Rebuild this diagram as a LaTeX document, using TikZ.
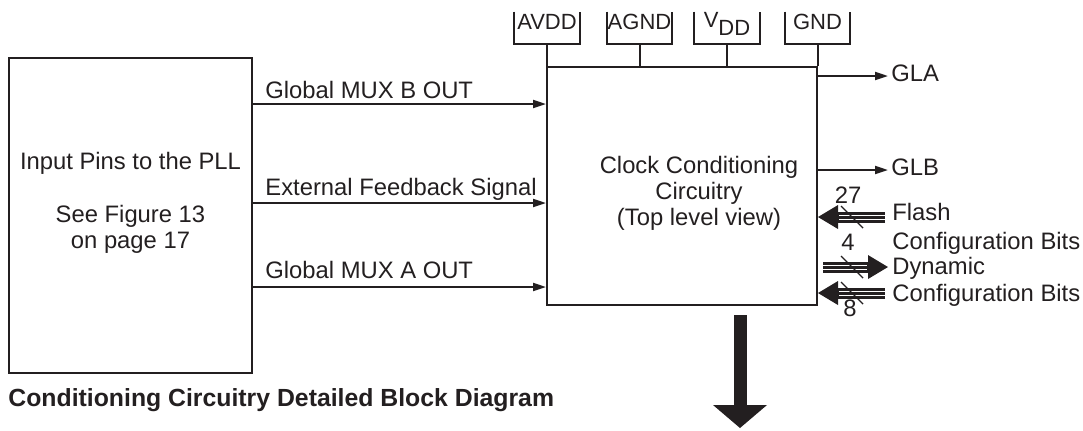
\documentclass[tikz,border=0pt]{standalone}
\usepackage{fontspec}
\setmainfont{Liberation Sans}
\usetikzlibrary{arrows.meta,positioning,calc}
\definecolor{ink}{HTML}{231F20}
\tikzset{
  blockbox/.style={draw=ink, line width=1pt, inner sep=0pt},
  blocktext/.style={align=center, inner sep=0pt, text=ink,
                    font=\fontsize{11.9}{13}\selectfont},
  pinbox/.style={inner sep=0pt, minimum width=32.5pt, text height=8.5pt,
                 text depth=7.5pt, text=ink, font=\fontsize{11}{13}\selectfont},
  pinline/.style={draw=ink, line width=1pt},
  sigarrow/.style={draw=ink, line width=1pt, -{Triangle[length=6.5pt,width=4pt]}},
  siglabel/.style={anchor=base west, inner sep=0pt, text=ink,
                   font=\fontsize{11.9}{14}\selectfont},
  fatbus/.style={draw=ink, line width=5.5pt,
                 -{Triangle[length=10pt,width=12pt,line width=0pt]}},
  fatstripe/.style={draw=white, line width=0.25pt},
  buscut/.style={draw=ink, line width=0.7pt},
  bigout/.style={draw=ink, line width=6.5pt,
                 -{Triangle[length=11.5pt,width=27pt,line width=0pt]}},
  captext/.style={anchor=base west, inner sep=0pt, text=ink,
                  font=\bfseries\fontsize{12.4}{15}\selectfont}
}
\begin{document}
\begin{tikzpicture}[x=0.5pt, y=-0.5pt]
  \useasboundingbox (0,0) rectangle (1083,430);

  % Blocks
  \node[blockbox, minimum width=121.5pt, minimum height=157.5pt] (pll) at (130.5,215.5) {};
  \node[blocktext] (plltext) at (130.5,203)
    {Input Pins to the PLL\\[13.5pt]See Figure 13\\on page 17};
  \node[blockbox, minimum width=135pt, minimum height=119pt] (ccc) at (682,186) {};
  \node[blocktext] (ccctext) at (699,193)
    {Clock Conditioning\\Circuitry\\(Top level view)};

  % Supply pins
  \foreach \pname/\px/\ptext in {avdd/547/AVDD, agnd/639.5/AGND,
      vdd/727/{\raisebox{1pt}{V}\raisebox{-3pt}{DD}}, gnd/817.5/GND} {
    \node[pinbox] (\pname) at (\px,28) {\ptext};
    \draw[pinline] (\pname.north west) -- (\pname.south west)
      -- (\pname.south east) -- (\pname.north east);
    \draw[pinline] (\pname.south) -- (\pname.south |- ccc.north);
  }

  % Inputs from the PLL pins
  \foreach \yy/\txt/\ly in {104/Global MUX B OUT/98,
      203/External Feedback Signal/195, 287/Global MUX A OUT/278} {
    \draw[sigarrow] (pll.east |- 0,\yy) -- (ccc.west |- 0,\yy);
    \node[siglabel] (in\yy) at (265,\ly) {\txt};
  }

  % Global outputs
  \coordinate (glaend) at (888,76);
  \coordinate (glbend) at (888,170);
  \draw[sigarrow] (ccc.east |- glaend) -- (glaend);
  \draw[sigarrow] (ccc.east |- glbend) -- (glbend);
  \node[siglabel] (gla) at (891,81) {GLA};
  \node[siglabel] (glb) at (891,175) {GLB};

  % Configuration busses
  \coordinate (flashin) at (885,217);
  \coordinate (dynout) at (888,267);
  \coordinate (dynin) at (885,293);
  \draw[fatbus] (flashin) -- (ccc.east |- flashin);
  \draw[fatbus] ($(ccc.east |- dynout)+(5,0)$) -- (dynout);
  \draw[fatbus] (dynin) -- (ccc.east |- dynin);
  \foreach \off in {-1.9,1.9} {
    \draw[fatstripe] ($(flashin)+(0,\off)$) -- ($(ccc.east |- flashin)+(21,\off)$);
    \draw[fatstripe] ($(ccc.east |- dynout)+(5,\off)$) -- ($(dynout)+(-21,\off)$);
    \draw[fatstripe] ($(dynin)+(0,\off)$) -- ($(ccc.east |- dynin)+(21,\off)$);
  }
  \draw[buscut] ($(ccc.east |- flashin)+(23,-11)$) -- ++(22,22);
  \draw[buscut] ($(ccc.east |- dynout)+(23,-11)$) -- ++(22,22);
  \draw[buscut] ($(ccc.east |- dynin)+(23,-11)$) -- ++(22,22);
  \node[siglabel, anchor=base] (n27) at (848,203) {27};
  \node[siglabel, anchor=base] (n4) at (848,250) {4};
  \node[siglabel, anchor=base] (n8) at (850,316) {8};
  \node[siglabel] (flash) at (892,220) {Flash};
  \node[siglabel] (cfg1) at (892,249) {Configuration Bits};
  \node[siglabel] (dyn) at (892,274) {Dynamic};
  \node[siglabel] (cfg2) at (892,301) {Configuration Bits};

  % Output to the PLL core
  \coordinate (outtop) at (740,315);
  \coordinate (outbot) at (740,428);
  \draw[bigout] (outtop) -- (outbot);

  \node[captext] (caption) at (8,406) {Conditioning Circuitry Detailed Block Diagram};
\end{tikzpicture}
\end{document}
